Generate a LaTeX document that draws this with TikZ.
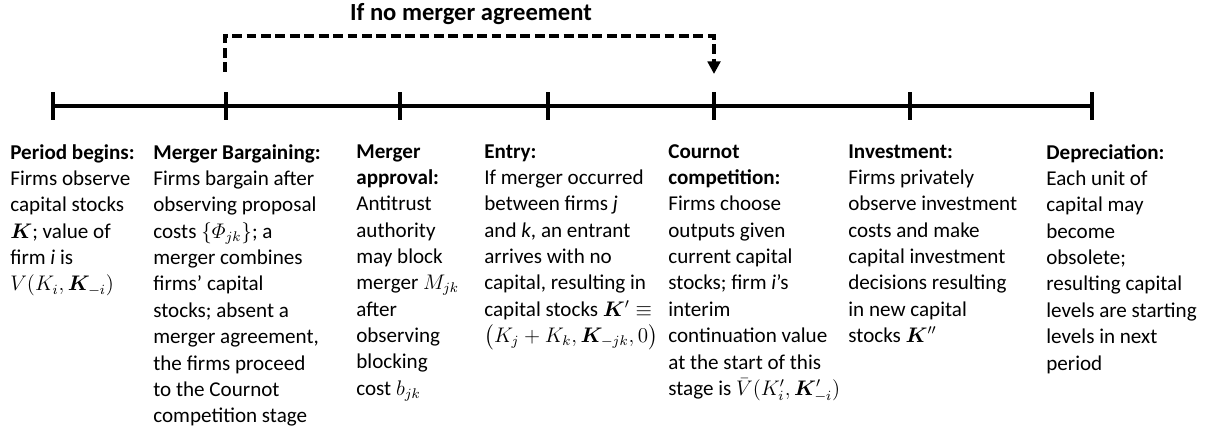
\documentclass[tikz,border=0pt]{standalone}
\usepackage{fontspec}
\setmainfont{Carlito}
\usepackage{amsmath}
\usepackage{bm}
\usetikzlibrary{arrows.meta}
\tikzset{
  timeline/.style={line width=1.8pt},
  tickmark/.style={line width=1.9pt},
  skip/.style={line width=1.8pt,dash pattern=on 5.6pt off 2.6pt,-{Triangle[length=2.5mm,width=2.5mm]}},
  stagetext/.style={anchor=north west,align=left,inner sep=0pt,font=\fontsize{12}{15}\selectfont},
  headtext/.style={anchor=base,inner sep=0pt,font=\fontsize{14}{16}\selectfont\bfseries}
}
\begin{document}
\begin{tikzpicture}[x=1cm,y=1cm]
\useasboundingbox (0,0) rectangle (24.28,-8.72);
\foreach \n/\x in {1/1.06,2/4.52,3/8.00,4/10.96,5/14.28,6/18.20,7/21.84}{\coordinate (t\n) at (\x,-2.12);}
\draw[timeline] (t1)--(t7);
\foreach \n in {1,...,7}{\draw[tickmark] ([yshift=0.27cm]t\n)--([yshift=-0.27cm]t\n);}
\node[headtext] (title) at (9.42,-0.42) {If no merger agreement};
\coordinate (skipstart) at (4.50,-1.44);
\coordinate (skipright) at (14.28,-0.72);
\coordinate (skipend) at (14.28,-1.48);
\draw[skip] (skipstart) |- (skipright)--(skipend);
\node[stagetext] (begins) at (0.20,-2.88) {\textbf{Period begins:}\\Firms observe\\capital stocks\\$\bm{K}$; value of\\firm \textit{i} is\\$V(K_i,\bm{K}_{-i})$};
\node[stagetext] (bargain) at (3.06,-2.88) {\textbf{Merger Bargaining:}\\Firms bargain after\\observing proposal\\costs $\{\varPhi_{jk}\}$; a\\merger combines\\firms' capital\\stocks; absent a\\merger agreement,\\the firms proceed\\to the Cournot\\competition stage};
\node[stagetext] (approval) at (7.12,-2.88) {\textbf{Merger}\\\textbf{approval:}\\Antitrust\\authority\\may block\\merger $M_{jk}$\\after\\observing\\blocking\\cost $b_{jk}$};
\node[stagetext] (entry) at (9.68,-2.88) {\textbf{Entry:}\\If merger occurred\\between firms \textit{j}\\and \textit{k}, an entrant\\arrives with no\\capital, resulting in\\capital stocks $\bm{K}'\equiv$\\$\bigl(K_j+K_k,\bm{K}_{-jk},0\bigr)$};
\node[stagetext] (cournot) at (13.36,-2.88) {\textbf{Cournot}\\\textbf{competition:}\\Firms choose\\outputs given\\current capital\\stocks; firm \textit{i}'s\\interim\\continuation value\\at the start of this\\stage is $\bar{V}(K_i',\bm{K}_{-i}')$};
\node[stagetext] (invest) at (16.96,-2.88) {\textbf{Investment:}\\Firms privately\\observe investment\\costs and make\\capital investment\\decisions resulting\\in new capital\\stocks $\bm{K}''$};
\node[stagetext] (deprec) at (20.92,-2.88) {\textbf{Depreciation:}\\Each unit of\\capital may\\become\\obsolete;\\resulting capital\\levels are starting\\levels in next\\period};
\end{tikzpicture}
\end{document}
